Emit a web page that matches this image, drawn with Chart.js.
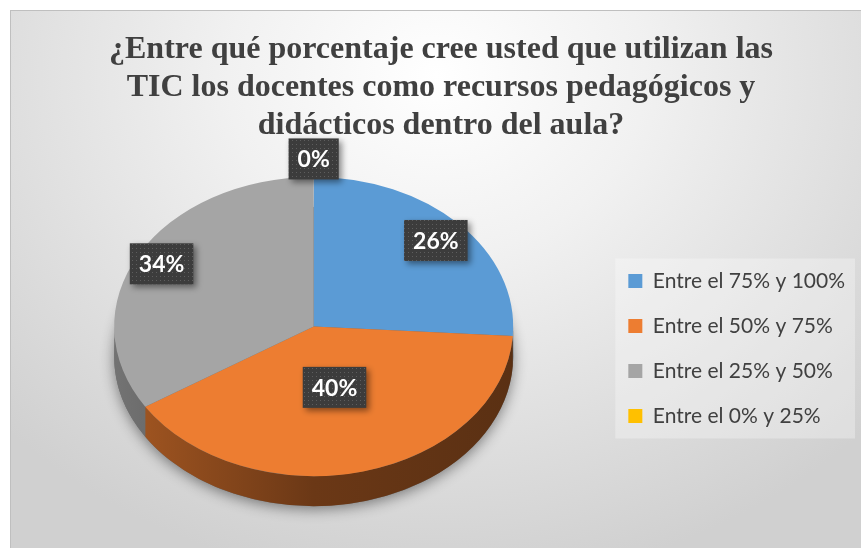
<!DOCTYPE html>
<html>
<head>
<meta charset="utf-8">
<script src="https://cdn.jsdelivr.net/npm/chart.js"></script>
<style>
html, body { margin: 0; padding: 0; background: #fff; overflow: hidden; }
#marco {
  position: absolute; left: 10px; top: 10px; width: 851px; height: 538px; overflow: hidden;
  border-top: 1px solid #bfbfbf; border-left: 1px solid #bfbfbf;
  background: radial-gradient(ellipse 70% 95% at 50% 12%, #ffffff 0%, #f1f1f1 35%, #d0d0d0 100%);
}
</style>
</head>
<body>
<div id="marco"><canvas id="grafico" width="844" height="537"></canvas></div>
<script>
var categorias = ['Entre el 75% y 100%', 'Entre el 50% y 75%', 'Entre el 25% y 50%', 'Entre el 0% y 25%'];
var porcentajes = [26, 40, 34, 0];
var colores = ['#5b9bd5', '#ed7d31', '#a5a5a5', '#ffc000'];
var titulo = ['¿Entre qué porcentaje cree usted que utilizan las', 'TIC los docentes como recursos pedagógicos y', 'didácticos dentro del aula?'];

function oscurecer(hex, f) {
  var n = parseInt(hex.slice(1), 16);
  var r = (n >> 16) & 255, g = (n >> 8) & 255, b = n & 255;
  return 'rgb(' + Math.round(r * f) + ',' + Math.round(g * f) + ',' + Math.round(b * f) + ')';
}

// trama de puntos de las etiquetas
var trama = document.createElement('canvas');
trama.width = 4; trama.height = 4;
var tctx = trama.getContext('2d');
tctx.fillStyle = '#3c3c3c'; tctx.fillRect(0, 0, 4, 4);
tctx.fillStyle = '#5e5e5e'; tctx.fillRect(1, 1, 1, 1);

var fondoLeyenda = {
  id: 'fondoLeyenda',
  beforeDraw: function(chart) {
    var cajas = chart.legend.legendHitBoxes;
    if (!cajas || !cajas.length) return;
    var izq = Infinity;
    cajas.forEach(function(c) { izq = Math.min(izq, c.left); });
    var arriba = cajas[0].top - 12, abajo = cajas[cajas.length - 1].top + cajas[cajas.length - 1].height + 12;
    var ctx = chart.ctx;
    ctx.save();
    ctx.fillStyle = 'rgba(255,255,255,0.3)';
    ctx.fillRect(izq - 13, arriba, chart.width - izq + 13, abajo - arriba);
    ctx.restore();
  }
};

var pastel3d = {
  id: 'pastel3d',
  beforeDatasetsDraw: function(chart, args, opts) {
    var meta = chart.getDatasetMeta(0);
    var a = meta.data[0];
    var ctx = chart.ctx;
    var cx = a.x + opts.shiftX, cy = a.y - opts.lift, r = a.outerRadius, ry = r * opts.tilt, d = opts.depth;
    // sombra bajo el pastel
    ctx.save();
    ctx.shadowColor = 'rgba(0,0,0,0.45)';
    ctx.shadowBlur = 14;
    ctx.shadowOffsetY = 3;
    ctx.fillStyle = '#6a6a6a';
    ctx.beginPath();
    ctx.ellipse(cx, cy + d, r, ry, 0, 0, Math.PI * 2);
    ctx.fill();
    ctx.restore();
    // cara lateral
    meta.data.forEach(function(arc, i) {
      var a1 = Math.max(arc.startAngle, 0), a2 = Math.min(arc.endAngle, Math.PI);
      if (a2 <= a1) return;
      var g = ctx.createLinearGradient(cx - r, 0, cx + r, 0);
      g.addColorStop(0, oscurecer(colores[i], 0.7));
      g.addColorStop(0.5, oscurecer(colores[i], 0.45));
      g.addColorStop(1, oscurecer(colores[i], 0.38));
      ctx.beginPath();
      ctx.ellipse(cx, cy, r, ry, 0, a1, a2);
      ctx.ellipse(cx, cy + d, r, ry, 0, a2, a1, true);
      ctx.closePath();
      ctx.fillStyle = g;
      ctx.fill();
    });
    // cara superior: el círculo se aplana en elipse
    ctx.save();
    ctx.translate(cx, cy);
    ctx.scale(1, opts.tilt);
    ctx.translate(-a.x, -a.y);
  },
  afterDatasetsDraw: function(chart, args, opts) {
    var ctx = chart.ctx;
    ctx.restore();
    var meta = chart.getDatasetMeta(0);
    var a = meta.data[0];
    var cx = a.x + opts.shiftX, cy = a.y - opts.lift, r = a.outerRadius;
    var patron = ctx.createPattern(trama, 'repeat');
    meta.data.forEach(function(arc, i) {
      var mid = (arc.startAngle + arc.endAngle) / 2;
      var rr = r * opts.labelRadius[i];
      var x = cx + Math.cos(mid) * rr, y = cy + Math.sin(mid) * rr * opts.tilt;
      var txt = porcentajes[i] + '%';
      ctx.font = 'bold 23px Lato';
      var w = ctx.measureText(txt).width + 18, h = 41;
      ctx.save();
      ctx.shadowColor = 'rgba(0,0,0,0.45)';
      ctx.shadowBlur = 6;
      ctx.shadowOffsetX = 3;
      ctx.shadowOffsetY = 3;
      ctx.fillStyle = patron;
      ctx.fillRect(x - w / 2, y - h / 2, w, h);
      ctx.restore();
      ctx.fillStyle = '#ffffff';
      ctx.textAlign = 'center';
      ctx.textBaseline = 'middle';
      ctx.fillText(txt, x, y + 1);
    });
  }
};

new Chart(document.getElementById('grafico'), {
  type: 'pie',
  data: {
    labels: categorias,
    datasets: [{
      data: porcentajes,
      backgroundColor: colores,
      borderWidth: 0,
      hoverOffset: 0
    }]
  },
  options: {
    responsive: false,
    animation: false,
    events: [],
    layout: { padding: { left: 16 } },
    plugins: {
      title: {
        display: true,
        text: titulo,
        color: '#404040',
        font: { family: 'Liberation Serif', size: 32, weight: 'bold', lineHeight: 1.1875 },
        padding: { top: 20, bottom: 4 }
      },
      legend: {
        position: 'right',
        fullSize: false,
        labels: {
          color: '#404040',
          font: { family: 'Lato', size: 21 },
          boxWidth: 14,
          boxHeight: 14,
          padding: 24
        }
      },
      tooltip: { enabled: false },
      pastel3d: { tilt: 0.75, lift: 22, depth: 30, shiftX: -2, labelRadius: [0.84, 0.42, 0.87, 1.12] }
    }
  },
  plugins: [fondoLeyenda, pastel3d]
});
</script>
</body>
</html>
